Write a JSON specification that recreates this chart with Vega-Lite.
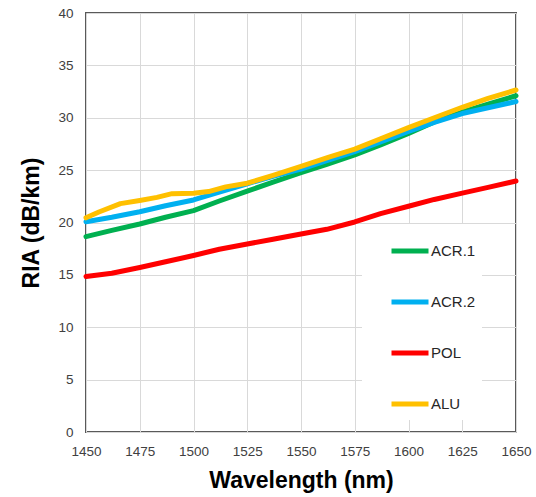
{
  "$schema": "https://vega.github.io/schema/vega-lite/v6.json",
  "width": 430,
  "height": 419,
  "autosize": {"type": "none"},
  "padding": {"left": 86, "top": 13, "right": 20, "bottom": 65},
  "background": "white",
  "config": {
    "font": "Liberation Sans",
    "view": {"stroke": "#595959", "strokeWidth": 2}
  },
  "data": {
    "values": [
      {"wl": 1450, "v": 18.65, "s": "ACR.1"},
      {"wl": 1462, "v": 19.25, "s": "ACR.1"},
      {"wl": 1475, "v": 19.86, "s": "ACR.1"},
      {"wl": 1487, "v": 20.5, "s": "ACR.1"},
      {"wl": 1500, "v": 21.13, "s": "ACR.1"},
      {"wl": 1512, "v": 22.05, "s": "ACR.1"},
      {"wl": 1525, "v": 23.0, "s": "ACR.1"},
      {"wl": 1537, "v": 23.85, "s": "ACR.1"},
      {"wl": 1550, "v": 24.75, "s": "ACR.1"},
      {"wl": 1562, "v": 25.55, "s": "ACR.1"},
      {"wl": 1575, "v": 26.45, "s": "ACR.1"},
      {"wl": 1587, "v": 27.4, "s": "ACR.1"},
      {"wl": 1600, "v": 28.5, "s": "ACR.1"},
      {"wl": 1612, "v": 29.6, "s": "ACR.1"},
      {"wl": 1625, "v": 30.55, "s": "ACR.1"},
      {"wl": 1637, "v": 31.3, "s": "ACR.1"},
      {"wl": 1650, "v": 32.1, "s": "ACR.1"},
      {"wl": 1450, "v": 20.07, "s": "ACR.2"},
      {"wl": 1462, "v": 20.5, "s": "ACR.2"},
      {"wl": 1475, "v": 21.03, "s": "ACR.2"},
      {"wl": 1487, "v": 21.6, "s": "ACR.2"},
      {"wl": 1500, "v": 22.15, "s": "ACR.2"},
      {"wl": 1512, "v": 22.9, "s": "ACR.2"},
      {"wl": 1525, "v": 23.7, "s": "ACR.2"},
      {"wl": 1537, "v": 24.4, "s": "ACR.2"},
      {"wl": 1550, "v": 25.1, "s": "ACR.2"},
      {"wl": 1562, "v": 25.9, "s": "ACR.2"},
      {"wl": 1575, "v": 26.76, "s": "ACR.2"},
      {"wl": 1587, "v": 27.7, "s": "ACR.2"},
      {"wl": 1600, "v": 28.7, "s": "ACR.2"},
      {"wl": 1612, "v": 29.55, "s": "ACR.2"},
      {"wl": 1625, "v": 30.4, "s": "ACR.2"},
      {"wl": 1637, "v": 30.95, "s": "ACR.2"},
      {"wl": 1650, "v": 31.55, "s": "ACR.2"},
      {"wl": 1450, "v": 14.85, "s": "POL"},
      {"wl": 1462, "v": 15.15, "s": "POL"},
      {"wl": 1475, "v": 15.7, "s": "POL"},
      {"wl": 1487, "v": 16.25, "s": "POL"},
      {"wl": 1500, "v": 16.85, "s": "POL"},
      {"wl": 1512, "v": 17.45, "s": "POL"},
      {"wl": 1525, "v": 17.95, "s": "POL"},
      {"wl": 1537, "v": 18.4, "s": "POL"},
      {"wl": 1550, "v": 18.9, "s": "POL"},
      {"wl": 1562, "v": 19.35, "s": "POL"},
      {"wl": 1575, "v": 20.05, "s": "POL"},
      {"wl": 1587, "v": 20.85, "s": "POL"},
      {"wl": 1600, "v": 21.55, "s": "POL"},
      {"wl": 1612, "v": 22.2, "s": "POL"},
      {"wl": 1625, "v": 22.8, "s": "POL"},
      {"wl": 1637, "v": 23.35, "s": "POL"},
      {"wl": 1650, "v": 23.96, "s": "POL"},
      {"wl": 1450, "v": 20.45, "s": "ALU"},
      {"wl": 1456, "v": 21.0, "s": "ALU"},
      {"wl": 1466, "v": 21.8, "s": "ALU"},
      {"wl": 1475, "v": 22.1, "s": "ALU"},
      {"wl": 1483, "v": 22.4, "s": "ALU"},
      {"wl": 1490, "v": 22.75, "s": "ALU"},
      {"wl": 1500, "v": 22.8, "s": "ALU"},
      {"wl": 1507, "v": 22.95, "s": "ALU"},
      {"wl": 1515, "v": 23.4, "s": "ALU"},
      {"wl": 1525, "v": 23.75, "s": "ALU"},
      {"wl": 1537, "v": 24.5, "s": "ALU"},
      {"wl": 1550, "v": 25.35, "s": "ALU"},
      {"wl": 1563, "v": 26.25, "s": "ALU"},
      {"wl": 1575, "v": 27.0, "s": "ALU"},
      {"wl": 1587, "v": 28.0, "s": "ALU"},
      {"wl": 1600, "v": 29.05, "s": "ALU"},
      {"wl": 1612, "v": 30.0, "s": "ALU"},
      {"wl": 1625, "v": 31.0, "s": "ALU"},
      {"wl": 1637, "v": 31.85, "s": "ALU"},
      {"wl": 1650, "v": 32.65, "s": "ALU"}
    ]
  },
  "mark": {"type": "line", "strokeWidth": 5, "strokeCap": "round", "strokeJoin": "round"},
  "encoding": {
    "x": {
      "field": "wl", "type": "quantitative",
      "scale": {"domain": [1450, 1650], "nice": false, "zero": false},
      "axis": {
        "title": "Wavelength (nm)", "values": [1450,1475,1500,1525,1550,1575,1600,1625,1650],
        "format": "d", "domain": false, "ticks": false, "labelPadding": 12,
        "labelFontSize": 13.5, "labelColor": "#404040", "labelFlush": false,
        "gridColor": "#d9d9d9", "gridWidth": 1,
        "titleFontSize": 23, "titleFontWeight": "bold", "titleColor": "#000000", "titlePadding": 12
      }
    },
    "y": {
      "field": "v", "type": "quantitative",
      "scale": {"domain": [0, 40], "nice": false},
      "axis": {
        "title": "RIA (dB/km)", "values": [0,5,10,15,20,25,30,35,40],
        "domain": false, "ticks": false, "labelPadding": 13,
        "labelFontSize": 13.5, "labelColor": "#404040", "labelFlush": false,
        "gridColor": "#d9d9d9", "gridWidth": 1,
        "titleFontSize": 23, "titleFontWeight": "bold", "titleColor": "#000000", "titlePadding": 14
      }
    },
    "color": {
      "field": "s", "type": "nominal",
      "scale": {"domain": ["ACR.1", "ACR.2", "POL", "ALU"], "range": ["#00B050", "#00B0F0", "#FF0000", "#FFC000"]},
      "sort": ["ACR.1", "ACR.2", "POL", "ALU"],
      "legend": {
        "title": null, "orient": "none", "legendX": 276, "legendY": 211,
        "fillColor": "white", "padding": 6, "symbolOffset": 21,
        "symbolType": "stroke", "symbolStrokeWidth": 5, "symbolSize": 1369,
        "labelFontSize": 15, "labelColor": "#262626", "labelOffset": 0, "rowPadding": 20
      }
    }
  }
}
